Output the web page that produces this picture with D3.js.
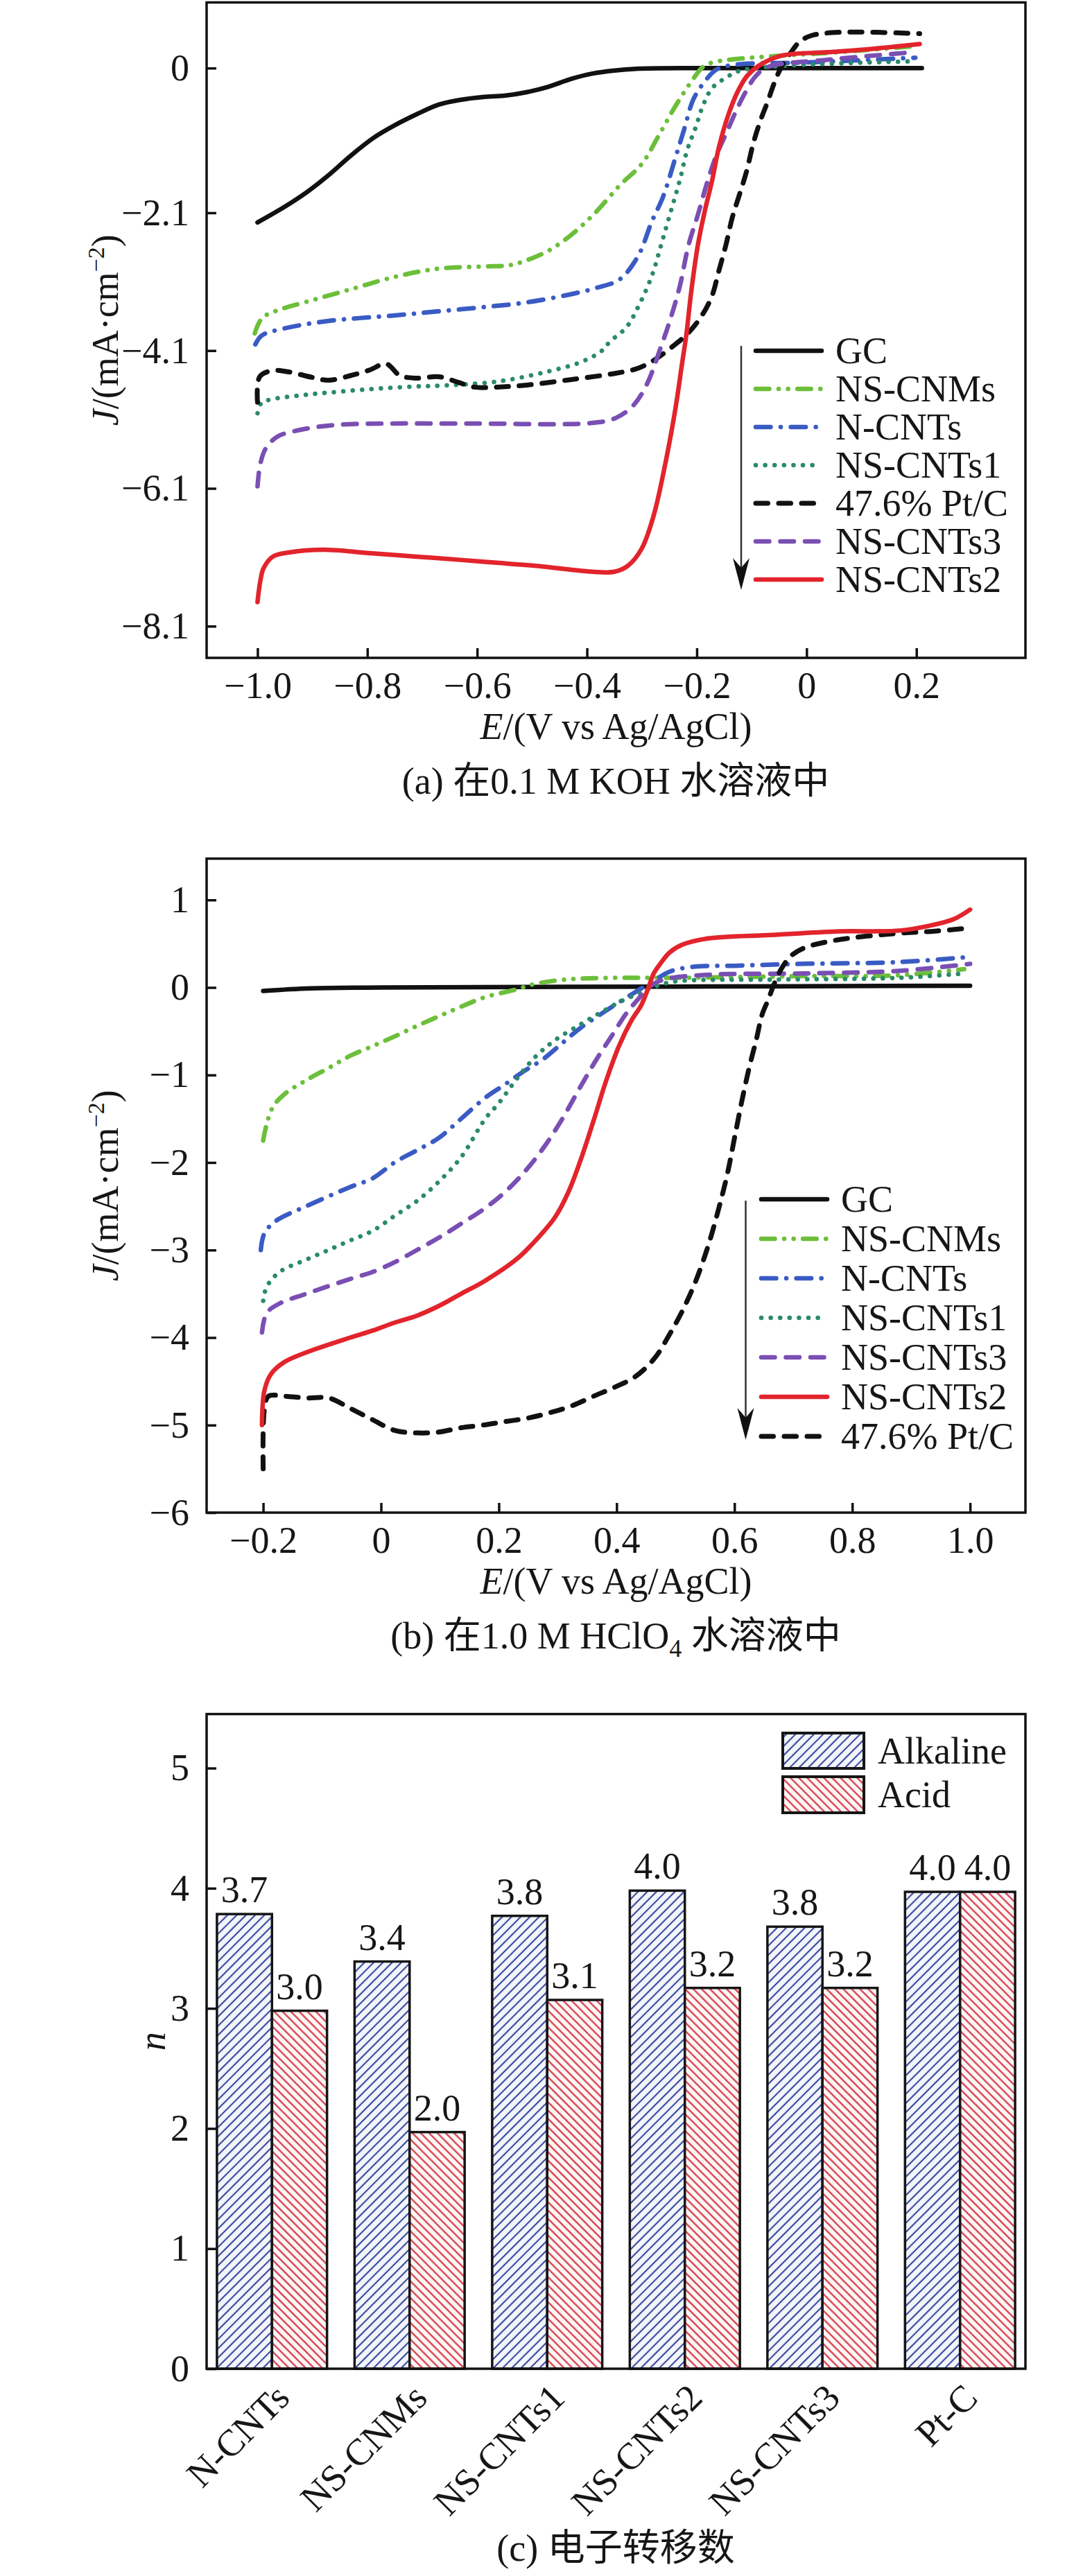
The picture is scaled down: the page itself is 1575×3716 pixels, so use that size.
<!DOCTYPE html>
<html>
<head>
<meta charset="utf-8">
<script src="https://cdn.jsdelivr.net/npm/d3@7"></script>
<style>
  body { margin: 0; background: #fff; }
  svg text { font-family: "Liberation Serif", "Times New Roman", "Noto Sans CJK SC", serif; fill: #161616; }
</style>
</head>
<body>
<svg id="fig" width="1575" height="3716"></svg>
<script>
// ---- (a) 0.1 M KOH : [E (V), J (mA/cm2)]
var kohGC = [[-1.0,-2.24],[-0.95,-2.01],[-0.91,-1.8],[-0.87,-1.55],[-0.83,-1.27],[-0.79,-1.02],[-0.75,-0.83],[-0.71,-0.67],[-0.67,-0.53],[-0.63,-0.46],[-0.59,-0.42],[-0.55,-0.4],[-0.51,-0.35],[-0.47,-0.27],[-0.43,-0.16],[-0.39,-0.08],[-0.35,-0.035],[-0.31,-0.01],[-0.2,0],[0.0,0],[0.21,0]];
var kohCNMs = [[-1.005,-3.85],[-0.992,-3.63],[-0.968,-3.53],[-0.91,-3.39],[-0.83,-3.21],[-0.75,-3.03],[-0.67,-2.91],[-0.59,-2.88],[-0.54,-2.86],[-0.51,-2.79],[-0.47,-2.65],[-0.43,-2.43],[-0.385,-2.1],[-0.34,-1.7],[-0.3,-1.39],[-0.27,-0.99],[-0.244,-0.62],[-0.223,-0.35],[-0.206,-0.15],[-0.189,0.015],[-0.172,0.08],[-0.13,0.13],[-0.046,0.18],[0.038,0.22],[0.122,0.27],[0.202,0.32]];
var kohNCNTs = [[-1.004,-4.01],[-0.992,-3.88],[-0.952,-3.78],[-0.871,-3.67],[-0.75,-3.59],[-0.67,-3.53],[-0.589,-3.47],[-0.509,-3.4],[-0.428,-3.28],[-0.383,-3.19],[-0.341,-3.07],[-0.307,-2.73],[-0.282,-2.23],[-0.261,-1.86],[-0.24,-1.33],[-0.223,-0.89],[-0.206,-0.45],[-0.185,-0.19],[-0.164,-0.02],[-0.13,0.05],[-0.004,0.08],[0.198,0.15]];
var kohCNTs1 = [[-1.0,-5.01],[-0.993,-4.86],[-0.976,-4.81],[-0.922,-4.75],[-0.871,-4.71],[-0.795,-4.66],[-0.71,-4.62],[-0.669,-4.61],[-0.564,-4.55],[-0.469,-4.4],[-0.412,-4.27],[-0.374,-4.11],[-0.358,-3.97],[-0.328,-3.76],[-0.307,-3.47],[-0.282,-3.02],[-0.265,-2.57],[-0.248,-2.1],[-0.231,-1.63],[-0.217,-1.18],[-0.202,-0.86],[-0.189,-0.55],[-0.172,-0.29],[-0.147,-0.14],[-0.122,-0.04],[-0.046,0.03],[0.198,0.1]];
var kohPtC = [[-1.0,-4.85],[-0.996,-4.48],[-0.972,-4.39],[-0.943,-4.41],[-0.9,-4.49],[-0.871,-4.53],[-0.829,-4.46],[-0.795,-4.38],[-0.766,-4.29],[-0.741,-4.46],[-0.711,-4.5],[-0.669,-4.48],[-0.635,-4.56],[-0.606,-4.63],[-0.564,-4.63],[-0.509,-4.6],[-0.428,-4.52],[-0.348,-4.43],[-0.308,-4.36],[-0.278,-4.24],[-0.244,-4.04],[-0.215,-3.84],[-0.189,-3.57],[-0.172,-3.3],[-0.16,-2.95],[-0.147,-2.57],[-0.135,-2.16],[-0.122,-1.83],[-0.109,-1.49],[-0.097,-1.09],[-0.084,-0.76],[-0.071,-0.49],[-0.059,-0.22],[-0.046,0.015],[-0.029,0.22],[-0.013,0.38],[0.008,0.47],[0.059,0.52],[0.206,0.5]];
var kohCNTs3 = [[-1.0,-6.07],[-0.995,-5.75],[-0.985,-5.52],[-0.964,-5.35],[-0.922,-5.25],[-0.858,-5.18],[-0.774,-5.16],[-0.6,-5.16],[-0.39,-5.15],[-0.348,-5.08],[-0.316,-4.9],[-0.291,-4.59],[-0.265,-4.04],[-0.248,-3.64],[-0.231,-3.17],[-0.215,-2.57],[-0.198,-2.13],[-0.181,-1.66],[-0.164,-1.26],[-0.147,-0.96],[-0.13,-0.65],[-0.114,-0.39],[-0.093,-0.12],[-0.071,0.015],[0.038,0.12],[0.194,0.23]];
var kohCNTs2 = [[-1.0,-7.75],[-0.995,-7.45],[-0.989,-7.26],[-0.972,-7.09],[-0.943,-7.03],[-0.88,-6.99],[-0.795,-7.04],[-0.711,-7.09],[-0.627,-7.14],[-0.564,-7.18],[-0.5,-7.22],[-0.43,-7.28],[-0.39,-7.31],[-0.35,-7.31],[-0.325,-7.22],[-0.3,-6.97],[-0.278,-6.48],[-0.255,-5.65],[-0.238,-4.9],[-0.227,-4.3],[-0.219,-3.87],[-0.21,-3.24],[-0.198,-2.57],[-0.185,-2.06],[-0.172,-1.63],[-0.16,-1.16],[-0.143,-0.69],[-0.126,-0.35],[-0.109,-0.12],[-0.088,0.03],[-0.046,0.18],[0.038,0.23],[0.12,0.28],[0.206,0.35]];

// ---- (b) 1.0 M HClO4
var hclGC = [[-0.2,-0.04],[-0.12,-0.01],[0.0,0.0],[0.5,0.01],[1.0,0.02]];
var hclCNMs = [[-0.2,-1.75],[-0.194,-1.56],[-0.183,-1.36],[-0.164,-1.22],[-0.127,-1.06],[-0.089,-0.92],[-0.052,-0.78],[-0.014,-0.67],[0.023,-0.56],[0.061,-0.44],[0.098,-0.33],[0.136,-0.22],[0.177,-0.11],[0.231,-0.02],[0.258,0.035],[0.312,0.09],[0.394,0.11],[0.501,0.11],[0.718,0.13],[0.88,0.14],[0.99,0.21]];
var hclNCNTs = [[-0.204,-3.0],[-0.198,-2.81],[-0.179,-2.67],[-0.127,-2.5],[-0.052,-2.28],[-0.014,-2.18],[0.023,-2.0],[0.061,-1.86],[0.098,-1.72],[0.136,-1.5],[0.177,-1.26],[0.21,-1.11],[0.242,-0.96],[0.275,-0.82],[0.307,-0.64],[0.339,-0.46],[0.372,-0.31],[0.404,-0.17],[0.431,-0.056],[0.458,0.054],[0.49,0.18],[0.528,0.235],[0.609,0.25],[0.718,0.27],[0.88,0.29],[1.0,0.35]];
var hclCNTs1 = [[-0.2,-3.58],[-0.194,-3.42],[-0.172,-3.25],[-0.127,-3.11],[-0.089,-3.0],[-0.052,-2.89],[-0.014,-2.78],[0.023,-2.61],[0.061,-2.44],[0.098,-2.22],[0.136,-1.94],[0.177,-1.5],[0.199,-1.33],[0.231,-1.04],[0.264,-0.78],[0.296,-0.6],[0.339,-0.42],[0.372,-0.29],[0.404,-0.17],[0.437,-0.07],[0.469,0.02],[0.501,0.07],[0.663,0.09],[0.88,0.11],[0.99,0.16]];
var hclCNTs3 = [[-0.202,-3.94],[-0.194,-3.72],[-0.172,-3.61],[-0.127,-3.5],[-0.052,-3.33],[-0.014,-3.25],[0.023,-3.14],[0.061,-3.0],[0.098,-2.86],[0.136,-2.7],[0.177,-2.52],[0.21,-2.34],[0.242,-2.12],[0.275,-1.84],[0.307,-1.51],[0.339,-1.13],[0.366,-0.82],[0.394,-0.53],[0.415,-0.31],[0.437,-0.13],[0.458,0.02],[0.48,0.09],[0.555,0.145],[0.718,0.16],[0.88,0.19],[1.0,0.27]];
var hclCNTs2 = [[-0.202,-5.0],[-0.198,-4.61],[-0.187,-4.42],[-0.164,-4.28],[-0.127,-4.17],[-0.052,-4.0],[-0.014,-3.92],[0.023,-3.83],[0.061,-3.75],[0.098,-3.64],[0.136,-3.5],[0.177,-3.35],[0.231,-3.1],[0.264,-2.88],[0.296,-2.62],[0.318,-2.34],[0.339,-1.97],[0.361,-1.52],[0.382,-1.07],[0.404,-0.67],[0.425,-0.38],[0.442,-0.2],[0.453,-0.02],[0.463,0.16],[0.474,0.27],[0.49,0.4],[0.512,0.49],[0.555,0.56],[0.663,0.6],[0.772,0.64],[0.88,0.65],[0.934,0.71],[0.972,0.78],[1.0,0.89]];
var hclPtC = [[-0.2,-5.5],[-0.198,-4.83],[-0.191,-4.67],[-0.164,-4.67],[-0.127,-4.69],[-0.089,-4.69],[-0.052,-4.81],[-0.014,-4.94],[0.023,-5.06],[0.061,-5.09],[0.098,-5.08],[0.136,-5.03],[0.173,-5.0],[0.211,-4.96],[0.249,-4.92],[0.286,-4.86],[0.324,-4.78],[0.361,-4.67],[0.399,-4.56],[0.431,-4.45],[0.464,-4.24],[0.491,-3.95],[0.512,-3.69],[0.534,-3.36],[0.555,-2.96],[0.572,-2.56],[0.588,-2.13],[0.601,-1.69],[0.615,-1.22],[0.626,-0.89],[0.637,-0.6],[0.647,-0.31],[0.658,-0.13],[0.666,0.017],[0.68,0.217],[0.696,0.36],[0.718,0.45],[0.772,0.54],[0.88,0.62],[0.934,0.64],[1.0,0.68]];

var kohTicksX = [-1.0,-0.8,-0.6,-0.4,-0.2,0,0.2];
var kohTicksY = [0,-2.1,-4.1,-6.1,-8.1];
var hclTicksX = [-0.2,0,0.2,0.4,0.6,0.8,1.0];
var hclTicksY = [1,0,-1,-2,-3,-4,-5,-6];

// ---- (c) electron transfer number
var categories = ["N-CNTs","NS-CNMs","NS-CNTs1","NS-CNTs2","NS-CNTs3","Pt-C"];
var alkalineN = [3.785,3.39,3.77,3.98,3.68,3.97];
var acidN = [2.98,1.97,3.07,3.17,3.17,3.97];
var alkalineLabels = ["3.7","3.4","3.8","4.0","3.8","4.0"];
var acidLabels = ["3.0","2.0","3.1","3.2","3.2","4.0"];
var barTicksY = [0,1,2,3,4,5];

var svg = d3.select("#fig");
svg.append("rect").attr("width", 1575).attr("height", 3716).attr("fill", "#fff");

var FS = 54;
var left = 298, right = 1479;

var styles = {
  "GC":         {color: "#111111", dash: null, w: 6.5},
  "NS-CNMs":    {color: "#6cbf3a", dash: "19.5 13.5 0.1 13.5 0.1 13.5", w: 6.5},
  "N-CNTs":     {color: "#3a5bc4", dash: "21.5 14.5 0.1 14.5", w: 6.5},
  "NS-CNTs1":   {color: "#2b8a6a", dash: "0.1 13.5", w: 6.5},
  "47.6% Pt/C": {color: "#111111", dash: "17.5 15.5", w: 7},
  "NS-CNTs3":   {color: "#7a4fb3", dash: "19.5 16", w: 6.5},
  "NS-CNTs2":   {color: "#e2242c", dash: null, w: 6.5}
};

function fmt1(d) { return d === 0 ? "0" : d3.format(".1f")(d); }

function styleAxis(g) {
  g.select(".domain").remove();
  g.selectAll(".tick line").attr("stroke", "#111").attr("stroke-width", 3.5);
  g.selectAll(".tick text").attr("font-size", FS);
}

function linePanel(o) {
  var g = svg.append("g");
  var x = d3.scaleLinear().domain(o.xDomain).range([left, right]);
  var y = d3.scaleLinear().domain(o.yDomain).range([o.bottom, o.top]);
  var line = d3.line()
      .x(function(d) { return x(d[0]); })
      .y(function(d) { return y(d[1]); })
      .curve(d3.curveCatmullRom.alpha(0.5));

  o.series.forEach(function(s) {
    var st = styles[s.name];
    g.append("path").datum(s.data)
      .attr("d", line)
      .attr("fill", "none")
      .attr("stroke", st.color)
      .attr("stroke-width", st.w)
      .attr("stroke-dasharray", st.dash)
      .attr("stroke-linecap", "round")
      .attr("stroke-linejoin", "round");
  });

  g.append("rect")
    .attr("x", left).attr("y", o.top)
    .attr("width", right - left).attr("height", o.bottom - o.top)
    .attr("fill", "none").attr("stroke", "#111").attr("stroke-width", 3.5);

  g.append("g").attr("transform", "translate(0," + o.bottom + ")")
    .call(d3.axisBottom(x).tickValues(o.xTicks).tickFormat(fmt1).tickSizeInner(-14).tickSizeOuter(0).tickPadding(20))
    .call(styleAxis);
  g.append("g").attr("transform", "translate(" + left + ",0)")
    .call(d3.axisLeft(y).tickValues(o.yTicks).tickFormat(o.yFormat).tickSizeInner(-14).tickSizeOuter(0).tickPadding(25))
    .call(styleAxis);

  // axis titles
  var xt = g.append("text").attr("x", (left + right) / 2).attr("y", o.bottom + 117)
    .attr("text-anchor", "middle").attr("font-size", FS);
  xt.append("tspan").attr("font-style", "italic").text("E");
  xt.append("tspan").text("/(V vs Ag/AgCl)");

  var yt = g.append("text")
    .attr("transform", "translate(170," + ((o.top + o.bottom) / 2) + ") rotate(-90)")
    .attr("text-anchor", "middle").attr("font-size", FS);
  yt.append("tspan").attr("font-style", "italic").text("J");
  yt.append("tspan").text("/(mA\u00b7cm");
  yt.append("tspan").attr("font-size", 34).attr("dy", -20).text("\u22122");
  yt.append("tspan").attr("dy", 20).text(")");

  // legend with arrow
  var lg = o.legend;
  g.append("line")
    .attr("x1", lg.arrowX).attr("x2", lg.arrowX)
    .attr("y1", lg.arrowTop).attr("y2", lg.arrowTip - 30)
    .attr("stroke", "#333").attr("stroke-width", 2.5);
  g.append("path")
    .attr("d", "M" + (lg.arrowX - 12) + "," + (lg.arrowTip - 46) + " L" + lg.arrowX + "," + (lg.arrowTip - 32) +
               " L" + (lg.arrowX + 12) + "," + (lg.arrowTip - 46) + " L" + lg.arrowX + "," + lg.arrowTip + " Z")
    .attr("fill", "#111");
  lg.order.forEach(function(name, i) {
    var st = styles[name];
    var yy = lg.y0 + i * lg.step;
    g.append("line")
      .attr("x1", lg.x1).attr("x2", lg.x2).attr("y1", yy).attr("y2", yy)
      .attr("stroke", st.color).attr("stroke-width", st.w)
      .attr("stroke-dasharray", st.dash).attr("stroke-linecap", "round");
    g.append("text").attr("x", lg.textX).attr("y", yy + 18)
      .attr("font-size", FS).text(name);
  });

  return g;
}

// (a)
linePanel({
  xDomain: [-1.0927, 0.3986], yDomain: [-8.56, 0.953],
  top: 3.5, bottom: 949,
  xTicks: kohTicksX, yTicks: kohTicksY, yFormat: fmt1,
  series: [
    {name: "GC", data: kohGC},
    {name: "NS-CNMs", data: kohCNMs},
    {name: "N-CNTs", data: kohNCNTs},
    {name: "NS-CNTs1", data: kohCNTs1},
    {name: "47.6% Pt/C", data: kohPtC},
    {name: "NS-CNTs3", data: kohCNTs3},
    {name: "NS-CNTs2", data: kohCNTs2}
  ],
  legend: {arrowX: 1069, arrowTop: 499, arrowTip: 851, x1: 1090, x2: 1185, textX: 1205, y0: 506, step: 55,
           order: ["GC","NS-CNMs","N-CNTs","NS-CNTs1","47.6% Pt/C","NS-CNTs3","NS-CNTs2"]}
});
svg.append("text").attr("x", 888).attr("y", 1145).attr("text-anchor", "middle").attr("font-size", FS)
  .text("(a) 在0.1 M KOH 水溶液中");

// (b)
linePanel({
  xDomain: [-0.296, 1.094], yDomain: [-6, 1.472],
  top: 1238.6, bottom: 2182,
  xTicks: hclTicksX, yTicks: hclTicksY, yFormat: d3.format("d"),
  series: [
    {name: "GC", data: hclGC},
    {name: "NS-CNMs", data: hclCNMs},
    {name: "N-CNTs", data: hclNCNTs},
    {name: "NS-CNTs1", data: hclCNTs1},
    {name: "NS-CNTs3", data: hclCNTs3},
    {name: "47.6% Pt/C", data: hclPtC},
    {name: "NS-CNTs2", data: hclCNTs2}
  ],
  legend: {arrowX: 1075.5, arrowTop: 1732, arrowTip: 2077, x1: 1098, x2: 1193, textX: 1213, y0: 1730, step: 57,
           order: ["GC","NS-CNMs","N-CNTs","NS-CNTs1","NS-CNTs3","NS-CNTs2","47.6% Pt/C"]}
});
var capB = svg.append("text").attr("x", 888).attr("y", 2378).attr("text-anchor", "middle").attr("font-size", FS);
capB.append("tspan").text("(b) 在1.0 M HClO");
capB.append("tspan").attr("font-size", 36).attr("dy", 12).text("4");
capB.append("tspan").attr("dy", -12).text(" 水溶液中");

// (c) bars
var defs = svg.append("defs");
function hatch(id, angle, gap, color, bg) {
  var p = defs.append("pattern").attr("id", id)
    .attr("patternUnits", "userSpaceOnUse")
    .attr("width", gap).attr("height", gap)
    .attr("patternTransform", "rotate(" + angle + ")");
  p.append("rect").attr("width", gap).attr("height", gap).attr("fill", bg);
  p.append("line").attr("x1", gap / 2).attr("x2", gap / 2).attr("y1", 0).attr("y2", gap)
    .attr("stroke", color).attr("stroke-width", 2.1);
}
hatch("hAlk", 45, 9.4, "#34469e", "#f4f5fa");
hatch("hAcid", -45, 8.5, "#d42a39", "#fcf6f6");

var cTop = 2472.6, cBottom = 3417;
var xb = d3.scaleBand().domain(categories).range([left, right]).paddingInner(0.2).paddingOuter(0.075);
var xs = d3.scaleBand().domain(["alk", "acid"]).range([0, xb.bandwidth()]);
var yb = d3.scaleLinear().domain([0, 5.45]).range([cBottom, cTop]);

var gc = svg.append("g");
categories.forEach(function(c, i) {
  [["alk", alkalineN[i], alkalineLabels[i], "url(#hAlk)"],
   ["acid", acidN[i], acidLabels[i], "url(#hAcid)"]].forEach(function(b) {
    var bx = xb(c) + xs(b[0]);
    gc.append("rect")
      .attr("x", bx).attr("y", yb(b[1]))
      .attr("width", xs.bandwidth()).attr("height", cBottom - yb(b[1]))
      .attr("fill", b[3]).attr("stroke", "#151515").attr("stroke-width", 3.5);
    gc.append("text")
      .attr("x", bx + xs.bandwidth() / 2).attr("y", yb(b[1]) - 17)
      .attr("text-anchor", "middle").attr("font-size", FS).text(b[2]);
  });
  gc.append("text")
    .attr("transform", "translate(" + (xb(c) + xb.bandwidth() / 2 + 28) + "," + (cBottom + 45) + ") rotate(-45)")
    .attr("text-anchor", "end").attr("font-size", FS).text(c);
});

gc.append("rect").attr("x", left).attr("y", cTop)
  .attr("width", right - left).attr("height", cBottom - cTop)
  .attr("fill", "none").attr("stroke", "#111").attr("stroke-width", 3.5);
gc.append("g").attr("transform", "translate(" + left + ",0)")
  .call(d3.axisLeft(yb).tickValues(barTicksY).tickFormat(d3.format("d")).tickSizeInner(-14).tickSizeOuter(0).tickPadding(25))
  .call(styleAxis);

gc.append("text").attr("transform", "translate(238," + ((cTop + cBottom) / 2) + ") rotate(-90)")
  .attr("text-anchor", "middle").attr("font-size", FS).attr("font-style", "italic").text("n");

// legend (c)
[["Alkaline", "url(#hAlk)", 2500, 51], ["Acid", "url(#hAcid)", 2563, 52]].forEach(function(l) {
  gc.append("rect").attr("x", 1129).attr("y", l[2]).attr("width", 117).attr("height", l[3])
    .attr("fill", l[1]).attr("stroke", "#151515").attr("stroke-width", 4);
  gc.append("text").attr("x", 1266).attr("y", l[2] + l[3] / 2 + 18).attr("font-size", FS).text(l[0]);
});

svg.append("text").attr("x", 888).attr("y", 3694).attr("text-anchor", "middle").attr("font-size", FS)
  .text("(c) 电子转移数");
</script>
</body>
</html>
